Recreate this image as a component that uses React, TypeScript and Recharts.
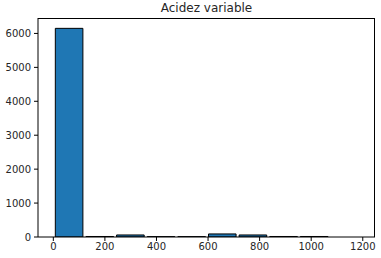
import React from 'react';
import { BarChart, Bar, XAxis, YAxis } from 'recharts';

// histogram bins (edges) and counts
const binEdges = [0, 118.8, 237.6, 356.4, 475.2, 594, 712.8, 831.6, 950.4, 1069.2, 1188];
const counts = [6150, 15, 60, 10, 10, 90, 60, 15, 15, 0];
const xTicks = [0, 200, 400, 600, 800, 1000, 1200];
const yTicks = [0, 1000, 2000, 3000, 4000, 5000, 6000];

const data = counts
  .map((count, i) => ({
    center: (binEdges[i] + binEdges[i + 1]) / 2,
    count,
  }))
  .filter(d => d.count > 0);

const W = 381;
const H = 258;
const margin = { top: 18, right: 6, bottom: 0, left: 0 };
const yAxisWidth = 38;
const xAxisHeight = 21;
const xDomain: [number, number] = [-59.4, 1247.4];
const plotWidth = W - margin.left - margin.right - yAxisWidth;
const plotHeight = H - margin.top - margin.bottom - xAxisHeight;
const barWidth = (plotWidth * (binEdges[1] - binEdges[0])) / (xDomain[1] - xDomain[0]);

const tickStyle = { fontSize: 10, fill: '#262626', fontFamily: 'DejaVu Sans' };

export default function App() {
  return (
    <div style={{ position: 'absolute', left: 0, top: 0, width: W, height: H, background: '#fff' }}>
      <div
        style={{
          position: 'absolute',
          left: margin.left + yAxisWidth,
          width: plotWidth,
          top: 1,
          textAlign: 'center',
          fontFamily: 'DejaVu Sans',
          fontSize: 12,
          color: '#262626',
        }}
      >
        Acidez variable
      </div>
      <BarChart width={W} height={H} data={data} margin={margin}>
        <XAxis
          type="number"
          dataKey="center"
          domain={xDomain}
          allowDataOverflow
          ticks={xTicks}
          height={xAxisHeight}
          tick={tickStyle}
          tickSize={4}
          tickMargin={2}
          axisLine={{ stroke: '#000' }}
          tickLine={{ stroke: '#000' }}
        />
        <YAxis
          type="number"
          domain={[0, 6455]}
          allowDataOverflow
          ticks={yTicks}
          width={yAxisWidth}
          tick={tickStyle}
          tickSize={4}
          tickMargin={3}
          axisLine={{ stroke: '#000' }}
          tickLine={{ stroke: '#000' }}
        />
        <Bar
          dataKey="count"
          fill="#1f77b4"
          stroke="#000"
          strokeWidth={1}
          barSize={barWidth}
          isAnimationActive={false}
        />
      </BarChart>
      {/* top and right spines */}
      <div
        style={{
          position: 'absolute',
          left: margin.left + yAxisWidth,
          top: margin.top,
          width: plotWidth,
          height: plotHeight,
          borderTop: '1px solid #000',
          borderRight: '1px solid #000',
          boxSizing: 'border-box',
          pointerEvents: 'none',
        }}
      />
    </div>
  );
}
